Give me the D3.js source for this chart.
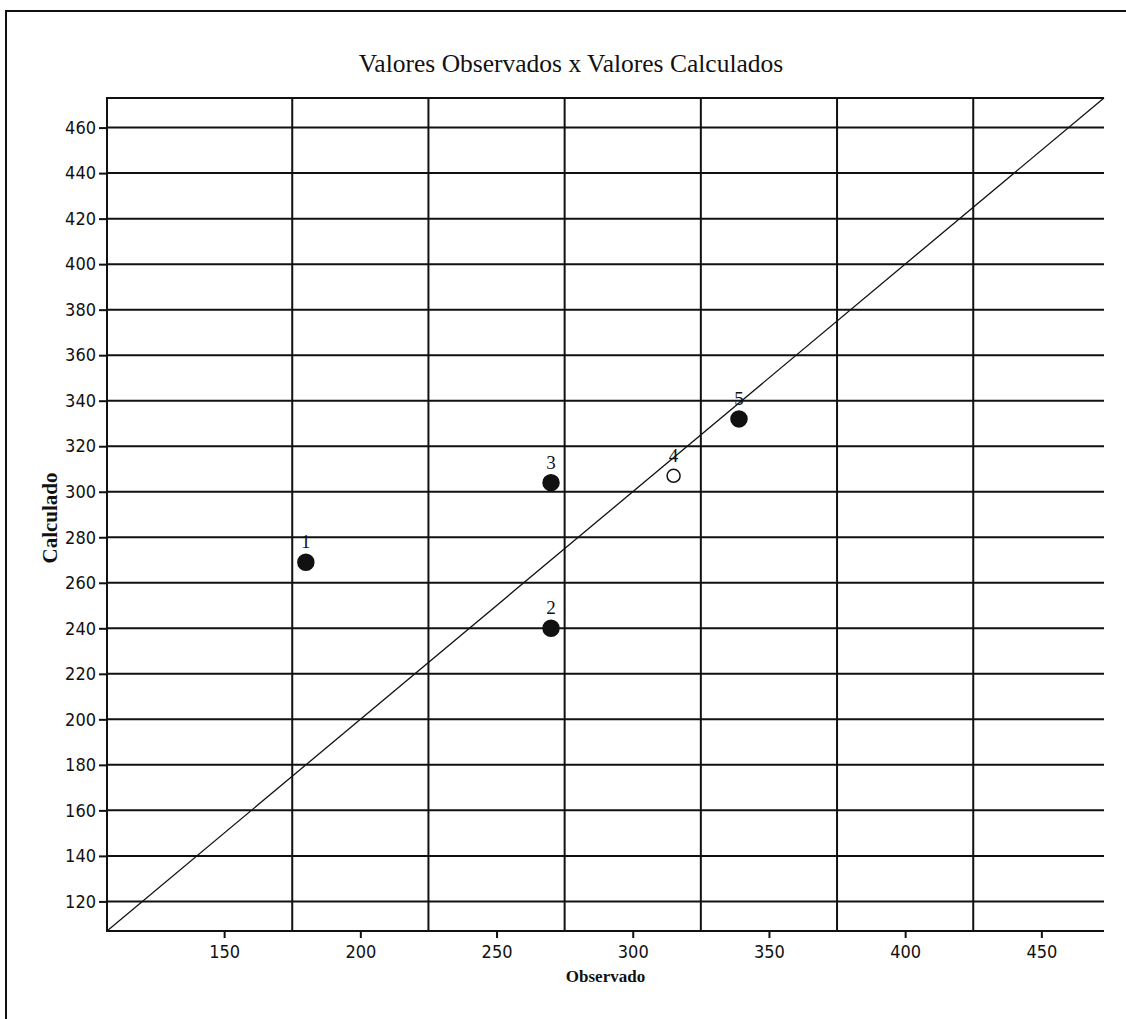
<!DOCTYPE html>
<html lang="pt">

<head>
    <meta charset="UTF-8">
    <title>Valores Observados x Valores Calculados</title>
    <script src="https://cdn.jsdelivr.net/npm/d3@7"></script>
    <style>
        * {
            margin: 0;
            padding: 0;
        }

        body {
            background: #fff;
        }
    </style>
</head>

<body>
    <script>
        // dados
        const ids = ["1", "2", "3", "4", "5"];
        const observado = [180, 270, 270, 315, 339];
        const calculado = [269, 240, 304, 307, 332];

        const xTicks = [150, 200, 250, 300, 350, 400, 450];
        const xGrid = [175, 225, 275, 325, 375, 425];
        const yTicks = [120, 140, 160, 180, 200, 220, 240, 260, 280, 300, 320, 340, 360, 380, 400, 420, 440, 460];
        const domain = [107, 473];

        const width = 1126;
        const height = 1019;
        const plotL = 107, plotR = 1104, plotT = 98, plotB = 931;
        const ink = "#111";
        const numFont = "'Liberation Sans Narrow', 'DejaVu Sans Condensed', 'Liberation Sans', sans-serif";
        const serif = "'Liberation Serif', 'DejaVu Serif', serif";

        const svg = d3.select("body").append("svg")
            .attr("width", width)
            .attr("height", height);

        svg.append("rect")
            .attr("width", width)
            .attr("height", height)
            .attr("fill", "#fff");

        // moldura externa
        svg.append("rect")
            .attr("x", 6)
            .attr("y", 11)
            .attr("width", width + 20)
            .attr("height", height + 20)
            .attr("fill", "none")
            .attr("stroke", ink)
            .attr("stroke-width", 2);

        const x = d3.scaleLinear().domain(domain).range([plotL, plotR]);
        const y = d3.scaleLinear().domain(domain).range([plotB, plotT]);

        // grade
        svg.append("g")
            .selectAll("line")
            .data(yTicks)
            .join("line")
            .attr("x1", plotL)
            .attr("x2", plotR)
            .attr("y1", d => y(d))
            .attr("y2", d => y(d))
            .attr("stroke", ink)
            .attr("stroke-width", 2);

        svg.append("g")
            .selectAll("line")
            .data(xGrid)
            .join("line")
            .attr("x1", d => x(d))
            .attr("x2", d => x(d))
            .attr("y1", plotT)
            .attr("y2", plotB)
            .attr("stroke", ink)
            .attr("stroke-width", 2);

        // bordas do gráfico (sem borda à direita)
        svg.append("path")
            .attr("d", `M${plotR},${plotT}H${plotL}V${plotB}H${plotR}`)
            .attr("fill", "none")
            .attr("stroke", ink)
            .attr("stroke-width", 2);

        // eixos
        const xAxis = svg.append("g")
            .attr("transform", `translate(0,${plotB})`)
            .call(d3.axisBottom(x).tickValues(xTicks).tickSize(7).tickPadding(7));
        const yAxis = svg.append("g")
            .attr("transform", `translate(${plotL},0)`)
            .call(d3.axisLeft(y).tickValues(yTicks).tickSize(8).tickPadding(3));

        [xAxis, yAxis].forEach(g => {
            g.select(".domain").remove();
            g.selectAll(".tick line").attr("stroke", ink).attr("stroke-width", 2);
            g.selectAll(".tick text")
                .attr("fill", ink)
                .style("font-family", numFont)
                .style("font-size", "18px");
        });

        // linha y = x
        svg.append("line")
            .attr("x1", x(domain[0]))
            .attr("y1", y(domain[0]))
            .attr("x2", x(domain[1]))
            .attr("y2", y(domain[1]))
            .attr("stroke", ink)
            .attr("stroke-width", 1.3);

        // pontos
        const pts = ids.map((id, i) => ({ id, o: observado[i], c: calculado[i] }));

        svg.append("g")
            .selectAll("circle")
            .data(pts)
            .join("circle")
            .attr("cx", d => x(d.o))
            .attr("cy", d => y(d.c))
            .attr("r", d => d.id === "4" ? 6.5 : 8)
            .attr("fill", d => d.id === "4" ? "#fff" : ink)
            .attr("stroke", ink)
            .attr("stroke-width", 1.5);

        svg.append("g")
            .selectAll("text")
            .data(pts)
            .join("text")
            .attr("x", d => x(d.o))
            .attr("y", d => y(d.c) - 14)
            .attr("text-anchor", "middle")
            .attr("fill", ink)
            .style("font-family", serif)
            .style("font-size", "19px")
            .text(d => d.id);

        // títulos
        svg.append("text")
            .attr("x", 571)
            .attr("y", 72)
            .attr("text-anchor", "middle")
            .attr("fill", ink)
            .style("font-family", serif)
            .style("font-size", "25.5px")
            .text("Valores Observados x Valores Calculados");

        svg.append("text")
            .attr("x", (plotL + plotR) / 2)
            .attr("y", 982)
            .attr("text-anchor", "middle")
            .attr("fill", ink)
            .style("font-family", serif)
            .style("font-size", "17px")
            .style("font-weight", "bold")
            .text("Observado");

        svg.append("text")
            .attr("transform", `translate(57,518) rotate(-90)`)
            .attr("text-anchor", "middle")
            .attr("fill", ink)
            .style("font-family", serif)
            .style("font-size", "21px")
            .style("font-weight", "bold")
            .text("Calculado");
    </script>
</body>

</html>
